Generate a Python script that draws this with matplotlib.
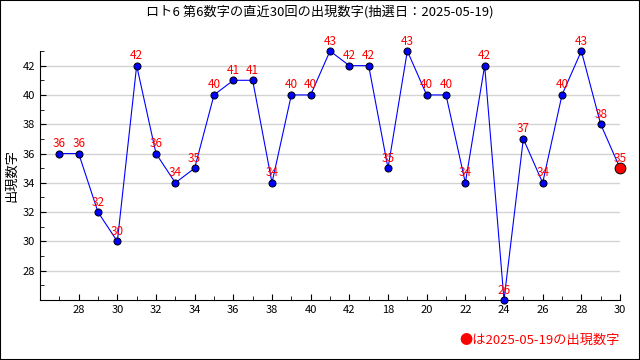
import matplotlib
matplotlib.use("Agg")
import matplotlib.pyplot as plt
from matplotlib.ticker import MultipleLocator
from matplotlib.patches import Rectangle

plt.rcParams['font.family'] = ['Noto Sans CJK JP', 'DejaVu Sans']

draw_labels = ['27', '28', '29', '30', '31', '32', '33', '34', '35', '36', '37', '38',
               '39', '40', '41', '42', '43', '18', '19', '20', '21', '22', '23', '24',
               '25', '26', '27', '28', '29', '30']
values = [36, 36, 32, 30, 42, 36, 34, 35, 40, 41, 41, 34, 40, 40, 43, 42, 42, 35,
          43, 40, 40, 34, 42, 26, 37, 34, 40, 43, 38, 35]
title = "ロト6 第6数字の直近30回の出現数字(抽選日：2025-05-19)"
ylabel = "出現数字"
note = "●は2025-05-19の出現数字"

fig = plt.figure(figsize=(6.4, 3.6), dpi=100)
ax = fig.add_axes([40/640, 1-300/360, 580/640, 249/360])

xs = list(range(len(values)))
ax.plot(xs, values, color='#0000ff', lw=0.8, zorder=3, clip_on=False)
ax.scatter(xs[:-1], values[:-1], s=26, color='#0000ff', edgecolors='black',
           linewidths=0.7, zorder=4, clip_on=False)
ax.scatter(xs[-1:], values[-1:], s=60, color='#ff0000', edgecolors='black',
           linewidths=0.7, zorder=5, clip_on=False)
for x, v in zip(xs, values):
    ax.annotate(str(v), (x, v), xytext=(0, 2.5), textcoords='offset points',
                ha='center', va='bottom', color='#ff0000', fontsize=8.5, zorder=6)

ax.set_xlim(-1, len(values) - 1)
ax.set_ylim(26, 43)
ticks = list(range(1, len(values), 2))
ax.set_xticks(ticks)
ax.set_xticklabels([draw_labels[i] for i in ticks])
ax.xaxis.set_minor_locator(MultipleLocator(1))
ax.set_yticks(list(range(28, 43, 2)))
ax.yaxis.set_minor_locator(MultipleLocator(1))
ax.tick_params(which='both', direction='in', labelsize=8, color='black')
ax.tick_params(which='major', length=4)
ax.tick_params(which='minor', length=3)
ax.grid(axis='y', which='major', color='#d3d3d3', lw=1)
ax.set_axisbelow(True)
for s in ['top', 'right']:
    ax.spines[s].set_visible(False)
ax.set_ylabel(ylabel, fontsize=9.5, labelpad=3)

fig.text(0.5, 1-12/360, title, ha='center', va='center', fontsize=9.5)
fig.text(620/640, 1-340/360, note, ha='right', va='center', fontsize=9.5, color='#ff0000')
fig.patches.append(Rectangle((0, 0), 1, 1, transform=fig.transFigure, fill=False,
                             edgecolor='black', lw=1.5))
fig.savefig('out.png', dpi=100)
